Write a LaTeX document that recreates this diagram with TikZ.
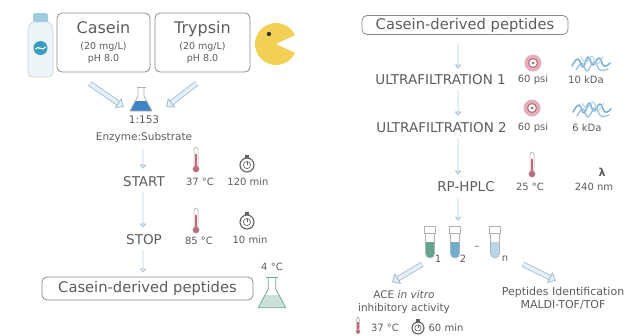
\documentclass[tikz,border=0pt]{standalone}
\usepackage{fontspec}
\setmainfont{DejaVu Sans}
\usepackage{tikz}
\usetikzlibrary{arrows.meta, positioning}

\definecolor{txt}{HTML}{5C5C5C}
\definecolor{boxline}{HTML}{8A8A8A}
\definecolor{arrowblue}{HTML}{9DBCD3}
\definecolor{arrowfill}{HTML}{E6EFF6}
\definecolor{flaskblue}{HTML}{3E84C6}
\definecolor{flaskgreen}{HTML}{6DAA92}
\definecolor{pacyellow}{HTML}{F2CF55}
\definecolor{gaugered}{HTML}{D27A89}
\definecolor{blobblue}{HTML}{7DB2D9}
\definecolor{thermored}{HTML}{C4677A}
\definecolor{bottlecap}{HTML}{9FCBE0}
\definecolor{bottlebody}{HTML}{EDF4F8}
\definecolor{emblem}{HTML}{3A9CC2}

\begin{document}
\begin{tikzpicture}[x=1pt, y=-1pt,
        every node/.style={text=txt, inner sep=1pt},
        panel/.style={draw=boxline, line width=0.8pt, rounded corners=5pt, align=center, inner sep=0pt},
        caps/.style={font=\fontsize{13.5}{14}\selectfont},
        param/.style={font=\fontsize{10}{11}\selectfont},
        note/.style={font=\fontsize{10.5}{13}\selectfont, align=center},
        bigarrow/.style={draw=arrowblue, line width=0.8pt, double=arrowfill, double distance=3.8pt, -{Triangle[open, length=7pt, width=12pt, fill=arrowfill]}},
        smallarrow/.style={draw=arrowblue, line width=0.6pt, double=arrowfill, double distance=1.6pt, -{Triangle[open, length=4pt, width=6.5pt, fill=arrowfill]}},
        thermo/.pic={
            \draw[gray!70, line width=0.5pt, fill=white, rounded corners=1.8pt] (-2,-12) rectangle (2,8);
            \fill[thermored] (-0.9,-5) rectangle (0.9,8);
            \draw[gray!70, line width=0.5pt, fill=thermored] (0,10) circle (3.2);
        },
        watch/.pic={
            \fill[gray!75!black] (-1.8,-10.5) rectangle (1.8,-7.5);
            \draw[gray!75!black, line width=1.1pt, fill=white] (0,0) circle (7);
            \draw[gray!75!black, line width=0.6pt] (0,0) circle (3.6);
            \draw[gray!75!black, line width=0.6pt] (0,0) -- (0,-3);
        },
        gauge/.pic={
            \fill[gaugered!60] (0,0) circle (8.5);
            \draw[gaugered!80!black, line width=0.9pt, fill=white] (0,0) circle (4.4);
            \fill[gaugered!80!black] (0,0) circle (1.5);
        },
        blob/.pic={
            \draw[blobblue, line width=1.6pt, line cap=round, line join=round]
                plot[smooth, tension=0.8] coordinates {(-19,2) (-13,-5) (-8,3) (-3,-7) (2,1) (8,-6) (13,2) (19,-1)};
            \draw[blobblue!80, line width=1.3pt, line cap=round]
                plot[smooth, tension=0.8] coordinates {(-15,6) (-9,-1) (-4,7) (3,-2) (9,6) (17,5)};
            \draw[blobblue!60, line width=1pt, line cap=round]
                plot[smooth, tension=0.8] coordinates {(-10,-7) (-5,-2) (1,-8) (6,0) (12,-7)};
        },
        pics/vial/.style={code={
            \fill[#1] (-4.5,0) -- (-4.5,11.5) arc (180:0:4.5) -- (4.5,0) -- cycle;
            \draw[gray!60, line width=0.6pt] (-4.5,-9) -- (-4.5,11.5) arc (180:0:4.5) -- (4.5,-9);
            \draw[gray!60, line width=0.6pt, fill=white] (-5.5,-16) rectangle (5.5,-9);
        }},
        pics/erlen/.style 2 args={code={
            \begin{scope}
                \clip (-3,-13) -- (-3,-4) -- (-11,11) -- (11,11) -- (3,-4) -- (3,-13) -- cycle;
                \fill[#1] (-12,1) rectangle (12,12);
            \end{scope}
            \draw[#2, line width=0.8pt, line join=round] (-3,-13) -- (-3,-4) -- (-11,11) -- (11,11) -- (3,-4) -- (3,-13);
            \draw[#2, line width=0.8pt] (-4.5,-13) -- (4.5,-13);
        }}
    ]
        \useasboundingbox (0,0) rectangle (629,335);

        % Left: enzymatic hydrolysis
        \pic at (40.5,45) {code={
            \draw[gray!35, line width=0.6pt, fill=bottlebody, rounded corners=4pt] (-12.5,-19) -- (-7,-24) -- (7,-24) -- (12.5,-19) -- (12.5,32) -- (-12.5,32) -- cycle;
            \fill[bottlecap, rounded corners=1.5pt] (-7.5,-32) rectangle (7.5,-23);
            \fill[emblem] (0,3) circle (7);
            \draw[white, line width=1.2pt] (-5,4) .. controls (-2,0) and (2,7) .. (5,2);
        }};
        \node[panel, minimum width=93pt, minimum height=59pt] (casein) at (103.5,42.5)
            {{\fontsize{16}{18}\selectfont Casein}\\[4pt]{\fontsize{9.5}{11}\selectfont (20 mg/L)}\\{\fontsize{9.5}{11}\selectfont pH 8.0}};
        \node[panel, minimum width=95pt, minimum height=59pt] (trypsin) at (202.5,42.5)
            {{\fontsize{16}{18}\selectfont Trypsin}\\[4pt]{\fontsize{9.5}{11}\selectfont (20 mg/L)}\\{\fontsize{9.5}{11}\selectfont pH 8.0}};
        \pic at (276,44) {code={
            \fill[pacyellow] (0,0) -- (25:21) arc (25:335:21) -- cycle;
            \fill[black!80] (-7,-10) circle (2.2);
        }};

        \node[minimum width=24pt, minimum height=24pt] (flask) at (141,100) {};
        \pic at (flask) {erlen={flaskblue}{gray!60}};
        \node[note] (ratio) at (144,129) {1:153\\[4pt]Enzyme:Substrate};

        \draw[bigarrow] ([xshift=-14pt, yshift=-11pt]casein.south) -- ([xshift=-5pt, yshift=-7pt]flask.west);
        \draw[bigarrow] ([xshift=-6pt, yshift=-11pt]trypsin.south) -- ([xshift=13pt, yshift=-7pt]flask.east);

        % START / STOP rows
        \node[caps] (start) at (144,182) {START};
        \node[param] (temp1) at (200,182) {37 °C};
        \node[param] (time1) at (248,182) {120 min};
        \pic at (196,159) {thermo};
        \pic at (247,165) {watch};

        \node[caps] (stop) at (144,240) {STOP};
        \node[param] (temp2) at (199,241) {85 °C};
        \node[param] (time2) at (250,240) {10 min};
        \pic at (196,220) {thermo};
        \pic at (247,222) {watch};

        \node[panel, minimum width=211pt, minimum height=23pt, font=\fontsize{14.7}{16}\selectfont] (pepL) at (147.5,288.5) {Casein-derived peptides};
        \node[minimum width=29pt, minimum height=32pt] (cold) at (272,294) {};
        \pic[scale=1.25] at (cold) {erlen={flaskgreen!35}{flaskgreen}};
        \node[param] (coldtemp) at (272,267) {4 °C};

        \draw[smallarrow, shorten <=5pt, shorten >=7pt] ([xshift=-1pt]ratio.south) -- ([xshift=-1pt]start.north);
        \draw[smallarrow, shorten <=4pt, shorten >=6pt] ([xshift=-1pt]start.south) -- ([xshift=-1pt]stop.north);
        \draw[smallarrow, shorten <=4pt, shorten >=4pt] ([xshift=-1pt]stop.south) -- ([xshift=-1pt]stop.south |- pepL.north);

        % Right: fractionation
        \coordinate (col) at (458,0);
        \node[panel, minimum width=206pt, minimum height=19pt, font=\fontsize{14.7}{16}\selectfont] (pepR) at (465,25) {Casein-derived peptides};

        \node[caps, anchor=east] (uf1) at (507,80) {ULTRAFILTRATION 1};
        \node[param] (psi1) at (533,80) {60 psi};
        \node[param] (cut1) at (586,80) {10 kDa};
        \pic at (533,63) {gauge};
        \pic at (591,64) {blob};

        \node[caps, anchor=east] (uf2) at (508,128) {ULTRAFILTRATION 2};
        \node[param] (psi2) at (533,128) {60 psi};
        \node[param] (cut2) at (587,128) {6 kDa};
        \pic at (532,108) {gauge};
        \pic at (592,110) {blob};

        \node[caps] (hplc) at (466,187) {RP-HPLC};
        \node[param] (temp3) at (530,187) {25 °C};
        \node[param] (wave) at (594,187) {240 nm};
        \node[font=\fontsize{11}{12}\selectfont\bfseries] (lambda) at (602,172) {λ};
        \pic at (532,164) {thermo};

        \draw[smallarrow, shorten <=8pt, shorten >=5pt] (pepR.south -| col) -- (uf1.north -| col);
        \draw[smallarrow, shorten <=4pt, shorten >=6pt] (uf1.south -| col) -- (uf2.north -| col);
        \draw[smallarrow, shorten <=4pt, shorten >=6pt] (uf2.south -| col) -- (hplc.north -| col);

        % Collected fractions
        \node[minimum width=11pt, minimum height=32pt] (tube1) at (430,242) {};
        \node[minimum width=11pt, minimum height=32pt] (tube2) at (455,242) {};
        \node[minimum width=11pt, minimum height=32pt] (tuben) at (495,242) {};
        \pic at (tube1) {vial={flaskgreen!90!teal}};
        \pic at (tube2) {vial={blobblue!90!teal}};
        \pic at (tuben) {vial={blobblue!55}};
        \node[param] (lab1) at (438,259) {1};
        \node[param] (lab2) at (463,259) {2};
        \node[param] (dots) at (477,248) {–};
        \node[param] (labn) at (505,259) {n};

        \draw[smallarrow, shorten <=5pt, shorten >=5pt] (hplc.south -| col) -- (tube2.north -| col);

        \node[note] (ace) at (404,302) {ACE \textit{in vitro}\\inhibitory activity};
        \node[font=\fontsize{11}{13}\selectfont, align=center] (ident) at (563,298) {Peptides Identification\\MALDI-TOF/TOF};

        \draw[bigarrow] ([xshift=-2pt, yshift=-6pt]tube1.south west) -- ([xshift=-12pt, yshift=7pt]ace.north);
        \draw[bigarrow] ([xshift=22pt, yshift=-6pt]tuben.south east) -- ([xshift=-7pt, yshift=5pt]ident.north);

        \pic[scale=0.65] at (358,325) {thermo};
        \node[param] (temp4) at (385,328) {37 °C};
        \pic[scale=0.85] at (418,328) {watch};
        \node[param] (time4) at (446,328) {60 min};
\end{tikzpicture}
\end{document}
